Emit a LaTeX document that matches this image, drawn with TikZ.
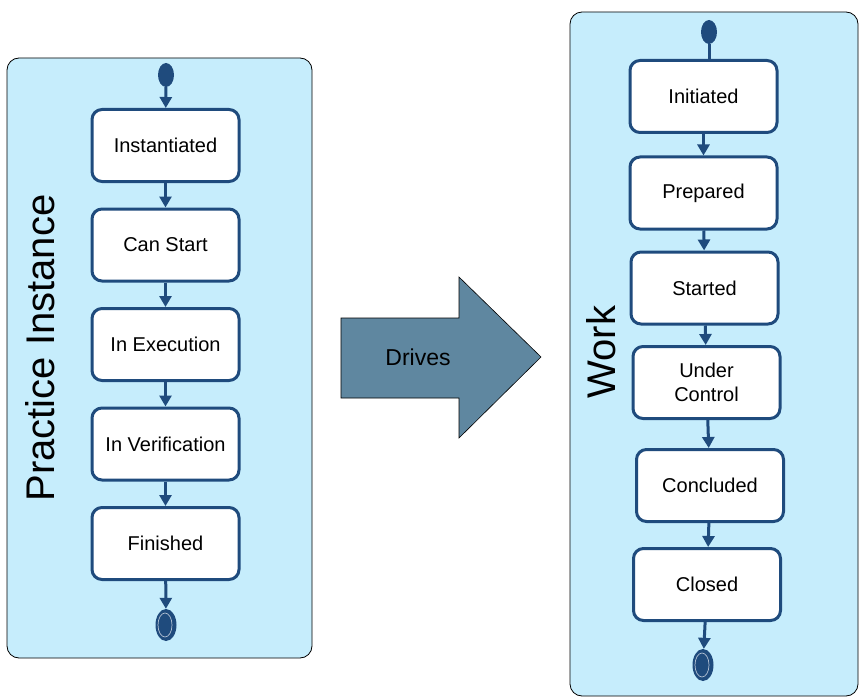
\documentclass[tikz,border=0pt]{standalone}
\usepackage{fontspec}
\setmainfont{Liberation Sans}
\definecolor{StateBlue}{RGB}{31,75,125}
\definecolor{LaneBlue} {RGB}{198,237,252}
\definecolor{DriveBlue}{RGB}{95,135,160}
\usetikzlibrary{arrows.meta,positioning,shapes.geometric}

\begin{document}
\begin{tikzpicture}[x=1pt,y=-1pt,node distance=24.5pt,
  state/.style={draw=StateBlue,fill=white,line width=3pt,rounded corners=10pt,
              minimum width=147pt,minimum height=72pt,
              align=center,font=\fontsize{20}{24}\selectfont},
  startdot/.style={ellipse,fill=StateBlue,inner sep=0pt,
              minimum width=16pt,minimum height=24pt},
  enddot/.style={ellipse,fill=StateBlue,inner sep=0pt,
              minimum width=21pt,minimum height=32pt},
  flow/.style={-{Triangle[length=11pt,width=12pt]},StateBlue,line width=3pt}]
  \useasboundingbox (0,0) rectangle (862,698);
  % lanes
  \draw[fill=LaneBlue,rounded corners=12pt,line width=0.8pt] (7,58) rectangle (312,658);
  \draw[fill=LaneBlue,rounded corners=12pt,line width=0.8pt] (570,12) rectangle (858,696);
  \node[rotate=90,font=\fontsize{40}{46}\selectfont] (pilabel) at (40,348){Practice Instance};
  \node[rotate=90,font=\fontsize{40}{46}\selectfont] (wlabel) at (601,352){Work};
  % drives arrow
  \draw[fill=DriveBlue,line width=0.6pt] (341,318) -- (459,318) -- (459,277) -- (541,357)
        -- (459,438) -- (459,398) -- (341,398) -- cycle;
  \node[font=\fontsize{23}{27}\selectfont] (drives) at (418,357){Drives};
  % practice instance states
  \node[startdot] (lstart) at (166,75){};
  \node[state] (inst) at (165.5,145.5){Instantiated};
  \node[state,below=of inst] (canstart){Can Start};
  \node[state,below=of canstart] (inexec){In Execution};
  \node[state,below=of inexec] (inverif){In Verification};
  \node[state,below=of inverif] (finished){Finished};
  \node[enddot] (lend) at (166,625){};
  \draw[white!65!StateBlue,line width=0.7pt] ([xshift=-1pt]lend.center) ellipse [x radius=7, y radius=12];
  \draw[flow](lstart)--(inst);
  \draw[flow](inst)--(canstart);
  \draw[flow](canstart)--(inexec);
  \draw[flow](inexec)--(inverif);
  \draw[flow](inverif)--(finished);
  \draw[flow](finished)--(lend);
  % work states
  \node[startdot] (rstart) at (709,32){};
  \node[state] (init) at (703.5,96.5){Initiated};
  \node[state,below=21.5pt of init] (prep){Prepared};
  \node[state,below=20pt of prep,xshift=1pt] (started){Started};
  \node[state,below=19.5pt of started,xshift=2pt] (underctrl){Under\\Control};
  \node[state,below=28pt of underctrl,xshift=3.5pt] (concl){Concluded};
  \node[state,below=24pt of concl,xshift=-3pt] (closed){Closed};
  \node[enddot] (rend) at (703,665){};
  \draw[white!65!StateBlue,line width=0.7pt] ([xshift=-1pt]rend.center) ellipse [x radius=7, y radius=12];
  \draw[StateBlue,line width=3pt](rstart)--(rstart |- init.north);
  \draw[flow](init)--(prep);
  \draw[flow](prep)--(started);
  \draw[flow](started)--(underctrl);
  \draw[flow](underctrl)--(concl);
  \draw[flow](concl)--(closed);
  \draw[flow](closed)--(rend);
\end{tikzpicture}
\end{document}
